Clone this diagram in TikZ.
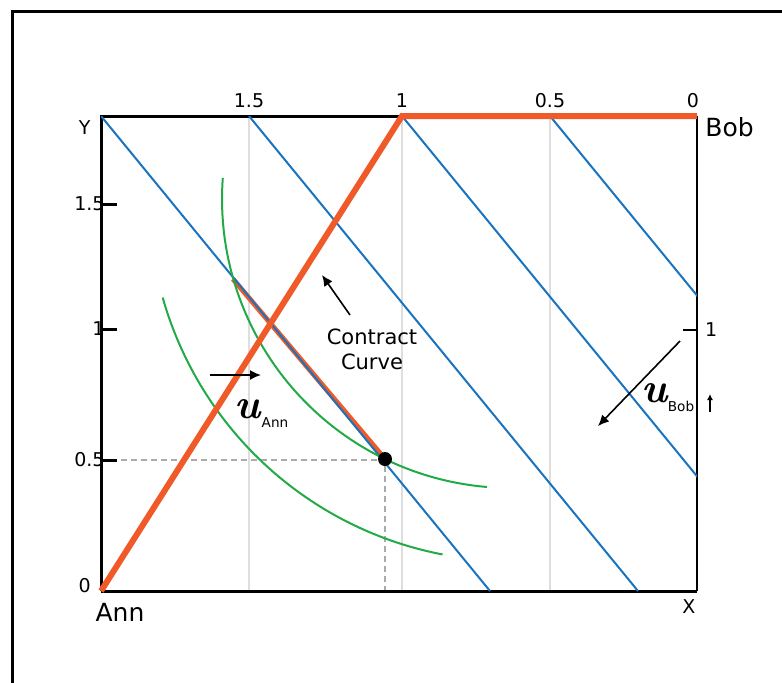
\documentclass[tikz,border=0pt]{standalone}
\usepackage{fontspec}
\setmainfont{DejaVu Sans}
\newfontfamily\utilfont{Latin Modern Roman}
\usetikzlibrary{arrows.meta}

\definecolor{budgetblue}{RGB}{26,115,190}
\definecolor{curveorange}{RGB}{240,90,40}
\definecolor{indiffgreen}{RGB}{34,170,70}
\definecolor{guidegray}{RGB}{222,222,222}
\definecolor{dashgray}{RGB}{170,170,170}

\begin{document}
\begin{tikzpicture}
  [x=0.5pt,y=-0.5pt,
   every node/.style={inner sep=0pt,font=\fontsize{9.5}{11}\selectfont},
   budget/.style={draw=budgetblue,line width=1pt},
   indiff/.style={draw=indiffgreen,line width=1pt},
   contract/.style={draw=curveorange,line width=3pt},
   gridline/.style={draw=guidegray,line width=1pt},
   guide/.style={draw=dashgray,line width=0.7pt,dash pattern=on 3pt off 2pt},
   pointer/.style={draw,line width=0.8pt,-{Latex[length=5.5pt,width=5pt]}},
   big/.style={font=\fontsize{12.5}{14}\selectfont},
   sub/.style={font=\fontsize{6.8}{8}\selectfont},
   util/.style={font=\utilfont\bfseries\itshape\fontsize{21}{22}\selectfont}]
  \useasboundingbox (0,0) rectangle (782,682);
  \draw[line width=1.5pt] (12.5,700) |- (800,11.5);

  % Edgeworth box corners
  \coordinate (annO) at (101,591);
  \coordinate (bobO) at (697,116);
  \coordinate (topL) at (101,116);
  \coordinate (botR) at (697,591);
  \coordinate (kink) at (402,116);
  \coordinate (endow) at (385,459);
  \coordinate (cross) at (233,279);

  \foreach \gx in {249,402,550}
    \draw[gridline] (\gx,116) -- (\gx,591);

  \draw[guide] (101,460) -| (385,591);

  \draw[line width=1.5pt] (annO) -- (topL) -- (bobO);
  \draw[line width=1.5pt] (annO) -- (botR);
  \draw[line width=1pt] (botR) -- (bobO);

  \draw[draw=curveorange,line width=2.5pt] (cross) -- (endow);

  \begin{scope}
    \clip (topL) rectangle (botR);
    \foreach \bx in {101,249,402,550}
      \draw[budget] (\bx,116) -- ++(389,475);
  \end{scope}

  % indifference curves
  \draw[indiff] plot[domain=94.8:184.2,samples=60] ({511+289*cos(\x)},{199+289*sin(\x)});
  \draw[indiff] plot[domain=100.9:164.2,samples=60] ({511+362*cos(\x)},{199+362*sin(\x)});

  \draw[contract] (annO) -- (kink) -- (bobO);

  \foreach \ty/\tl in {204/1.5,329/1,460/0.5}
    \draw[line width=1.5pt] (101,\ty) -- (117,\ty) node[anchor=east,xshift=-5.5pt] {\tl};
  \node[anchor=east] (yLbl) at (91,128) {Y};
  \node[anchor=east] (zeroLbl) at (91,586) {0};
  \foreach \tx/\tl in {249/1.5,402/1,550/0.5,693/0}
    \node at (\tx,101) {\tl};
  \draw[line width=1.2pt] (683,330) -- (697,330) node[anchor=west,xshift=3.5pt] {1};

  \node[big] (annLbl) at (120,612) {Ann};
  \node[big,anchor=west] (bobLbl) at (705,127) {Bob};
  \node (xLbl) at (689,607) {X};

  \fill (endow) circle (7);

  \node[align=center,font=\fontsize{10.5}{12.5}\selectfont] (ccLbl) at (372,349) {Contract\\Curve};
  \coordinate (ccFrom) at (350,315);
  \coordinate (ccTo) at (322,275);
  \draw[pointer] (ccFrom) -- (ccTo);

  \coordinate (annFrom) at (210,375);
  \coordinate (annTo) at (261,375);
  \draw[pointer] (annFrom) -- (annTo);
  \node[util] (uAnn) at (248,409) {u};
  \node[sub] (annSub) at (275,423) {Ann};

  \coordinate (bobFrom) at (680,341);
  \coordinate (bobTo) at (598,426);
  \draw[pointer] (bobFrom) -- (bobTo);
  \node[util] (uBob) at (655,393) {u};
  \node[sub] (bobSub) at (681,406) {Bob};
  \coordinate (upFrom) at (710,412);
  \coordinate (upTo) at (710,394);
  \draw[line width=0.8pt,-{Latex[length=3pt,width=3pt]}] (upFrom) -- (upTo);
\end{tikzpicture}
\end{document}
